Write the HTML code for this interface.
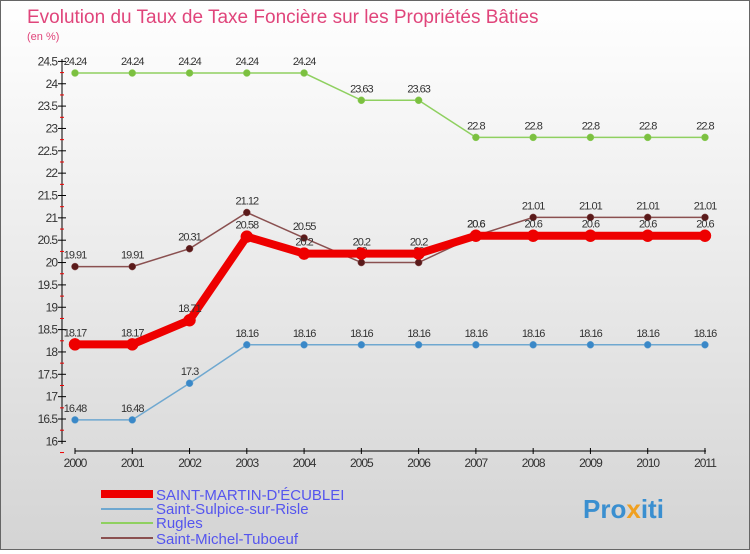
<!DOCTYPE html>
<html><head><meta charset="utf-8"><style>
body{margin:0;width:750px;height:550px;overflow:hidden;font-family:"Liberation Sans",sans-serif}
#wrap{position:relative;width:748px;height:548px;border:1px solid #666;background:linear-gradient(#ffffff,#d4d4d4)}
</style></head><body>
<div id="wrap">
<svg id="c" width="748" height="548">
<text x="26" y="22" font-size="19" fill="#e0457b">Evolution du Taux de Taxe Foncière sur les Propriétés Bâties</text>
<text x="26" y="39" font-size="11" fill="#e0457b">(en %)</text>
<g id="axes"></g><g id="series"></g>
<g>
<rect x="100" y="489" width="52" height="8" fill="#e00"/>
<text x="155" y="499" font-size="15" fill="#5555ee">SAINT-MARTIN-D'ÉCUBLEI</text>
<rect x="100" y="507" width="52" height="2" fill="#6fa8d0"/>
<text x="155" y="513" font-size="15" fill="#5555ee">Saint-Sulpice-sur-Risle</text>
<rect x="100" y="521" width="52" height="2" fill="#8fd060"/>
<text x="155" y="527" font-size="15" fill="#5555ee">Rugles</text>
<rect x="100" y="536" width="52" height="2" fill="#8a5050"/>
<text x="155" y="543" font-size="15" fill="#5555ee">Saint-Michel-Tuboeuf</text>
</g>
<text x="582" y="517" font-size="26" font-weight="bold" fill="#3a8fd0">Pro<tspan fill="#f0a020">x</tspan>iti</text>
</svg></div>
<script>
const years=[2000,2001,2002,2003,2004,2005,2006,2007,2008,2009,2010,2011];
const yTicks=[16,16.5,17,17.5,18,18.5,19,19.5,20,20.5,21,21.5,22,22.5,23,23.5,24,24.5];
const smd=[18.17,18.17,18.71,20.58,20.2,20.2,20.2,20.6,20.6,20.6,20.6,20.6];
const sulpice=[16.48,16.48,17.3,18.16,18.16,18.16,18.16,18.16,18.16,18.16,18.16,18.16];
const rugles=[24.24,24.24,24.24,24.24,24.24,23.63,23.63,22.8,22.8,22.8,22.8,22.8];
const michel=[19.91,19.91,20.31,21.12,20.55,20,20,20.6,21.01,21.01,21.01,21.01];
const NS="http://www.w3.org/2000/svg";
const xs=i=>74+i*57.27, ys=v=>60.4+(24.5-v)*44.7;
function mk(t,a,p){const e=document.createElementNS(NS,t);for(const k in a)e.setAttribute(k,a[k]);p.appendChild(e);return e;}
const ax=document.getElementById('axes');
let yl=mk('line',{x1:61,y1:58,x2:61,y2:443,stroke:'#000'},ax);


yTicks.forEach(v=>{const y=ys(v);
mk('line',{x1:57,y1:y,x2:65,y2:y,stroke:'#000'},ax);
mk('line',{x1:59,y1:y+11.2,x2:63,y2:y+11.2,stroke:'#e00'},ax);
const t=mk('text',{x:56,y:y+4,'font-size':12,'text-anchor':'end',fill:'#333','letter-spacing':'-1'},ax);t.textContent=String(v);

});
let xl=mk('line',{x1:74,y1:450,x2:705,y2:450,stroke:'#000'},ax);


years.forEach((yr,i)=>{const x=xs(i);
mk('line',{x1:x,y1:447,x2:x,y2:453,stroke:'#000'},ax);
const t=mk('text',{x:x,y:466,'font-size':12,'text-anchor':'middle',fill:'#333','letter-spacing':'-1'},ax);t.textContent=yr;

});
const sg=document.getElementById('series');
function series(d,name,col,w,r,dot){
const g=mk('g',{},sg);


mk('polyline',{points:d.map((v,i)=>xs(i)+','+ys(v)).join(' '),fill:'none',stroke:col,'stroke-width':w},g);
d.forEach((v,i)=>{const c=mk('circle',{cx:xs(i),cy:ys(v),r:r,fill:dot,stroke:col,'stroke-width':0.5},g);


const t=mk('text',{x:xs(i),y:ys(v)-8,'font-size':11,'text-anchor':'middle',fill:'#333','letter-spacing':'-1'},g);t.textContent=String(v);

});}
series(rugles,'rugles','#8fd060',1.5,3.5,'#7cc040');
series(sulpice,'saint-sulpice','#6fa8d0',1.5,3.5,'#3a88c8');
series(michel,'saint-michel','#8a5050',1.5,3.5,'#5a1a1a');
series(smd,'saint-martin','#e00',8,6,'#e00');
</script></body></html>
